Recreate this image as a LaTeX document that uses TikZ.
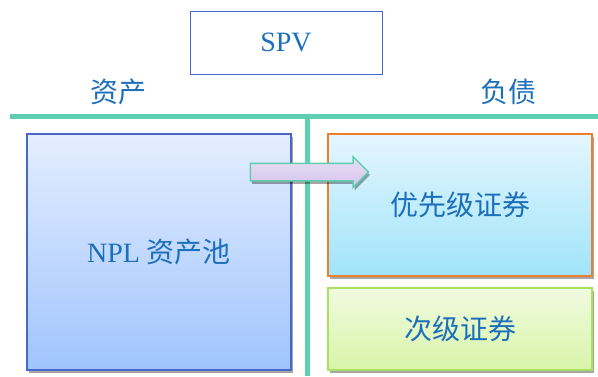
\documentclass[tikz,border=0pt]{standalone}
\usepackage{fontspec}
\setmainfont{Liberation Serif}
\newfontfamily\cjk{Noto Sans CJK SC}
\usetikzlibrary{shapes.arrows,shadows}

\definecolor{txtblue}{HTML}{1B6FBB}
\definecolor{teal}{HTML}{5ECFB0}
\definecolor{npledge}{HTML}{4A66C8}
\definecolor{senedge}{HTML}{F07D2A}
\definecolor{junedge}{HTML}{A8E060}

\tikzset{
  boxshadow/.style={drop shadow={shadow xshift=1.5pt,shadow yshift=-3pt,fill=black,opacity=0.35}},
  pool/.style={draw=npledge,line width=1.2pt,top color={rgb,255:red,228;green,238;blue,254},bottom color={rgb,255:red,160;green,196;blue,254},
    minimum width=264pt,minimum height=236pt,boxshadow},
  tranche/.style={line width=1.5pt,minimum width=264pt,boxshadow},
  txt/.style={text=txtblue,font=\fontsize{28}{30}\selectfont}
}

\begin{document}
\begin{tikzpicture}[x=1pt,y=-1pt]
      \useasboundingbox (0,0) rectangle (598,376);
      \draw
        (286, 42.5) node[draw=npledge,line width=0.8pt,minimum width=192pt,minimum height=63pt,txt] (spv){SPV}
        (118, 92) node[txt] (asset){\cjk 资产}
        (508, 92) node[txt] (liab){\cjk 负债};
      % balance sheet
      \draw[teal,line width=5pt] (10,116) coordinate (tl) -- (598,116) coordinate (tr);
      \draw[teal,line width=5pt] (307,116) coordinate (mt) -- (307,376) coordinate (mb);
      \draw
        (159, 252) node[pool,txt] (npl){NPL {\cjk 资产池}}
        (460, 205) node[tranche,draw=senedge,minimum height=142pt,
          top color={rgb,255:red,228;green,246;blue,254},bottom color={rgb,255:red,160;green,228;blue,250},txt] (senior){\raisebox{-3pt}{\cjk 优先级证券}}
        (460, 329) node[tranche,draw=junedge,minimum height=82pt,
          top color={rgb,255:red,240;green,251;blue,224},bottom color={rgb,255:red,216;green,244;blue,168},txt] (junior){\cjk 次级证券};
      \node[single arrow,draw=teal,line width=1.5pt,top color={rgb,255:red,232;green,222;blue,244},bottom color={rgb,255:red,214;green,196;blue,236},
        minimum height=118pt,single arrow head extend=6.5pt,single arrow head indent=0pt,inner xsep=0pt,inner ysep=8pt,
        text height=0pt,text depth=0pt,boxshadow] (flow) at (305,172) {};
    \end{tikzpicture}
\end{document}
